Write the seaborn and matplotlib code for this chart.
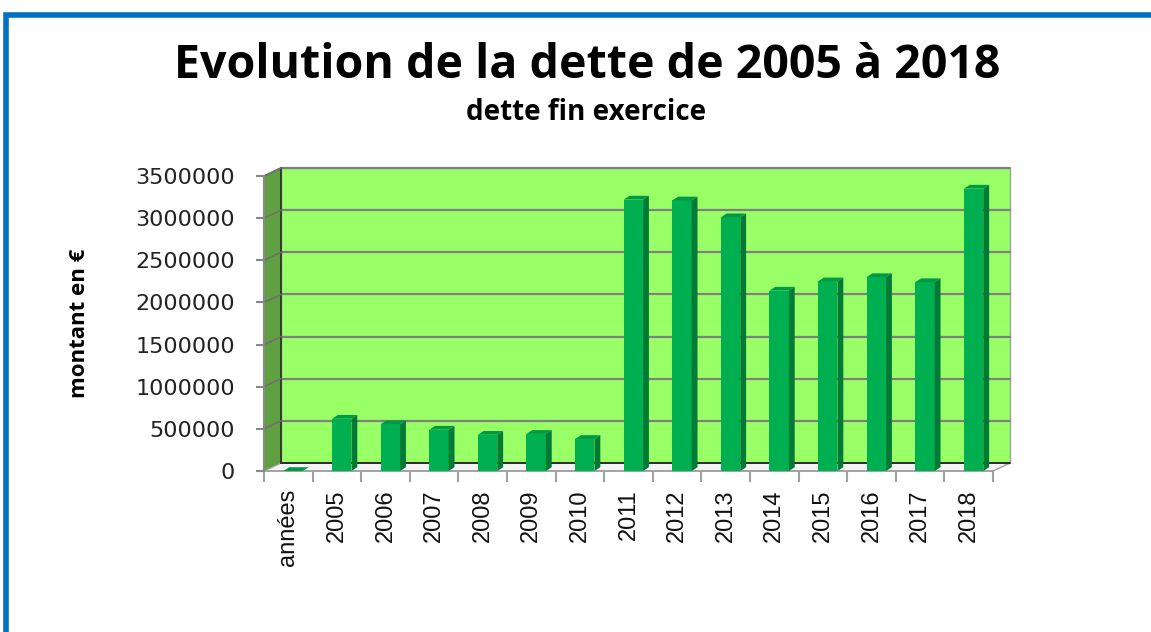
import matplotlib
matplotlib.use('Agg')
import matplotlib.pyplot as plt
from matplotlib.patches import Polygon, Rectangle
import seaborn as sns
import pandas as pd

# data
categories = ['années', '2005', '2006', '2007', '2008', '2009', '2010',
              '2011', '2012', '2013', '2014', '2015', '2016', '2017', '2018']
dette = [0, 620000, 555000, 490000, 430000, 440000, 380000,
         3220000, 3210000, 3010000, 2140000, 2250000, 2300000, 2240000, 3350000]
yticks = [0, 500000, 1000000, 1500000, 2000000, 2500000, 3000000, 3500000]

df = pd.DataFrame({'annee': categories, 'dette': dette})

sns.set_style('white')
plt.rcParams['font.family'] = ['Open Sans', 'DejaVu Sans']

fig = plt.figure(figsize=(11.51, 6.32), dpi=100)
W, H = 1151, 632
# front plane of the 3D box
ax = fig.add_axes([264 / W, (H - 471) / H, 729 / W, (471 - 176) / H])
ax.patch.set_alpha(0)

# bars (front faces)
sns.barplot(data=df, x='annee', y='dette', color='#00B050', width=0.4,
            saturation=1, edgecolor='none', ax=ax, zorder=2)
bars = list(ax.containers[0])

ymax = 3500000
ax.set_xlim(-0.5, len(categories) - 0.5)
ax.set_ylim(0, ymax)

# depth offset of back wall, in data units
dx, dy = 0.35, 95000
x0, x1 = -0.5, len(categories) - 0.5

# back wall
ax.add_patch(Rectangle((x0 + dx, dy), x1 - x0, ymax, facecolor='#99FF66',
                       edgecolor='#A0A0A0', lw=1, zorder=0, clip_on=False))
# left wall
ax.add_patch(Polygon([(x0, 0), (x0 + dx, dy), (x0 + dx, ymax + dy), (x0, ymax)],
                     closed=True, facecolor='#5FA040', edgecolor='#555555', lw=1,
                     zorder=0.5, clip_on=False))
# floor
ax.add_patch(Polygon([(x0, 0), (x1, 0), (x1 + dx, dy), (x0 + dx, dy)],
                     closed=True, facecolor='#F4F4F4', edgecolor='#A0A0A0', lw=1,
                     zorder=0.5, clip_on=False))
ax.plot([x0 + dx, x1 + dx], [dy, dy], color='#222222', lw=1.3, zorder=0.6, clip_on=False)
ax.plot([x0 + dx, x0 + dx], [dy, ymax + dy], color='#333333', lw=1.3, zorder=0.6, clip_on=False)

# gridlines on back and left wall
for t in yticks[1:]:
    ax.plot([x0 + dx, x1 + dx], [t + dy, t + dy], color='#808080', lw=1.6,
            zorder=0.4, clip_on=False)
    ax.plot([x0, x0 + dx], [t, t + dy], color='#707070', lw=1.2,
            zorder=0.7, clip_on=False)

# 3D side and top faces of the bars
sdx, sdy = 0.12, 45000
for p in bars:
    p.set_x(p.get_x() + 0.1)
    p.set_clip_on(False)
    bx0 = p.get_x()
    bx1 = bx0 + p.get_width()
    h = p.get_height()
    ax.add_patch(Polygon([(bx1, 0), (bx1, h), (bx1 + sdx, h + sdy), (bx1 + sdx, sdy)],
                         closed=True, facecolor='#007A35', edgecolor='none',
                         zorder=2, clip_on=False))
    ax.add_patch(Polygon([(bx0, h), (bx1, h), (bx1 + sdx, h + sdy), (bx0 + sdx, h + sdy)],
                         closed=True, facecolor='#009A45', edgecolor='none',
                         zorder=2, clip_on=False))

# axes styling
for s in ['top', 'right', 'bottom']:
    ax.spines[s].set_visible(False)
ax.spines['left'].set_color('#888888')
ax.spines['left'].set_linewidth(1.5)
ax.plot([x0, x1], [0, 0], color='#A0A0A0', lw=1.2, zorder=0.8, clip_on=False)

ax.set_yticks(yticks)
ax.set_yticklabels([str(t) for t in yticks], family='DejaVu Sans')
ax.tick_params(axis='y', length=6, width=1.5, color='#888888', labelsize=16,
               labelcolor='#222222', pad=15, left=True)
ax.set_xticks(range(len(categories)))
ax.set_xticklabels(categories, rotation=90, fontsize=17, color='#111111',
                   family='Liberation Sans')
ax.set_xticks([i - 0.5 for i in range(len(categories) + 1)], minor=True)
ax.tick_params(axis='x', which='major', length=0, pad=13)
ax.tick_params(axis='x', which='minor', length=8, width=1.5, color='#A0A0A0', bottom=True)

ax.set_xlabel('')
ax.set_ylabel('montant en €', fontsize=16, fontweight='bold', color='black')
ax.yaxis.set_label_coords((90 - 264) / 729, 0.5)

fig.text(587 / W, 1 - 65 / H, 'Evolution de la dette de 2005 à 2018', ha='center',
         va='center', fontsize=33.5, fontweight='bold', color='black')
fig.text(586 / W, 1 - 113 / H, 'dette fin exercice', ha='center', va='center',
         fontsize=20, fontweight='bold', color='black')

# blue frame
fig.add_artist(Rectangle((5.5 / W, -0.1), 2, (H - 15) / H + 0.1, transform=fig.transFigure,
                         fill=False, edgecolor='#0070C0', lw=4))

fig.savefig('out.png', dpi=100)
